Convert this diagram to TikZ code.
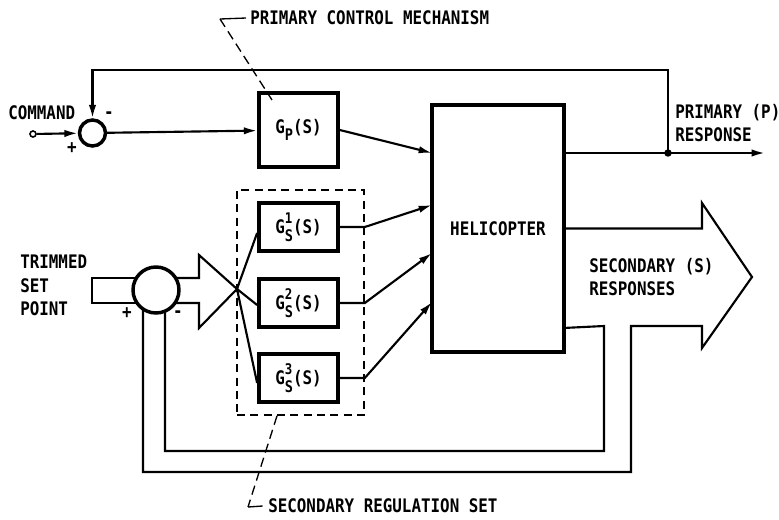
\documentclass[tikz,border=0pt]{standalone}
\usepackage{fontspec}
\newfontfamily\lettering[FakeStretch=0.85]{DejaVu Sans Mono}
\usetikzlibrary{arrows.meta,positioning,calc}
\tikzset
{
  lbl/.style     = {inner sep=0pt, align=left, font=\lettering\bfseries\fontsize{14}{17.5}\selectfont},
  block/.style   = {lbl, draw=black, line width=2.8pt, minimum width=59.25pt, align=center},
  sumnode/.style = {circle, draw=black, line width=2.6pt, fill=white, inner sep=0pt},
  dashbox/.style = {draw=black, line width=1.2pt, dash pattern=on 6pt off 4pt, inner sep=0pt},
  leader/.style  = {line width=1pt, dash pattern=on 7pt off 4pt},
  sig/.style     = {line width=1.6pt},
  arr/.style     = {sig, -{Latex[length=10pt,width=5.5pt]}}
}
\newcommand{\Gprim}{G\raisebox{-0.7ex}{\fontsize{12}{12}\selectfont P}(S)}
\newcommand{\Gsec}[1]{G\rlap{\raisebox{1.0ex}{\fontsize{11}{11}\selectfont #1}}\raisebox{-0.8ex}{\fontsize{12}{12}\selectfont S}(S)}

\begin{document}
\begin{tikzpicture}[x=0.75pt, y=-0.75pt]
  \useasboundingbox (0,0) rectangle (779,519);

  \node [block, minimum height=55.5pt] (gp) at (298.5,130) {\Gprim};
  \node [block, minimum height=36pt] (g1) at (298.5,227) {\Gsec{1}};
  \node [block, minimum height=36pt] (g2) at (298.5,303) {\Gsec{2}};
  \node [block, minimum height=36pt] (g3) at (298.5,378) {\Gsec{3}};
  \node [block, minimum width=99pt, minimum height=185.25pt] (heli) at (498,228.5) {HELICOPTER};
  \node [dashbox, minimum width=95.25pt, minimum height=168.75pt] (regset) at (300.5,302.5) {};

  \node [sumnode, minimum size=19.5pt] (sum1) at (92.5,133) {};
  \node [circle, draw=black, line width=1.2pt, inner sep=0pt, minimum size=4.5pt] (cmd) at (33,134) {};

  \coordinate (hin0) at (432,153);
  \coordinate (hin1) at (432,205);
  \coordinate (hin2) at (432,253);
  \coordinate (hin3) at (432,302);
  \coordinate (tap) at (668,153);
  \coordinate (pout) at (765,153);
  \coordinate (fbk) at (92.5,70);
  \coordinate (tip) at (237,289);

  % primary loop
  \draw [arr] (cmd) -- (sum1);
  \draw [arr] (sum1) -- (gp);
  \draw [arr] (gp.east) -- (hin0);
  \draw [arr] (heli.east |- hin0) -- (pout);
  \fill (tap) circle (2.8pt);
  \draw [arr] (tap) |- (fbk) -- (sum1.north);

  % secondary set
  \foreach \i in {1,2,3}
    \draw [arr] (g\i.east) -- (g\i.east -| regset.east) -- (hin\i);
  \draw [sig] (tip) -- ([yshift=-4.5pt]g1.west);
  \draw [sig] (tip) -- ([yshift=-1.5pt]g2.west);
  \draw [sig] (tip) -- ([yshift=-3.75pt]g3.west);

  % wide arrows
  \draw [sig] (156,278) -- (92,278) -- (92,303) -- (156,303);
  \draw [sig] (156,278) -- (199,278) -- (199,255) -- (tip) -- (199,328) -- (199,303) -- (156,303);
  \draw [sig] (heli.east) -- (702,228.5) -- (702,203) -- (752,277) -- (702,348) -- (702,326)
    -- (631,326) -- (631,472) -- (143,472) -- (143,290);
  \draw [sig] ([yshift=19.5pt]heli.south east) -- (604,326) -- (604,451) -- (165,451) -- (165,290);
  \node [sumnode, minimum size=34.5pt] (sum2) at (156,290) {};

  % labels
  \node [lbl, anchor=west] (cmdlbl) at (8,113) {COMMAND};
  \node [lbl] (p1) at (72,148) {+};
  \node [lbl] (m1) at (109,115) {-};
  \node [lbl] (p2) at (127,313) {+};
  \node [lbl] (m2) at (178,314) {-};
  \node [lbl, anchor=north west] (prim) at (675,104) {PRIMARY (P)\\RESPONSE};
  \node [lbl, anchor=north west] (trim) at (20,255) {TRIMMED\\SET\\POINT};
  \node [lbl, anchor=north west] (secr) at (589,258) {SECONDARY (S)\\RESPONSES};

  \node [lbl, anchor=west] (pcm) at (250,18) {PRIMARY CONTROL MECHANISM};
  \coordinate (pcmk) at (220,19);
  \draw [line width=1pt] ([xshift=-3pt]pcm.west) -- (pcmk);
  \draw [leader] (pcmk) -- (272,100);

  \node [lbl, anchor=west] (srs) at (268,506) {SECONDARY REGULATION SET};
  \coordinate (srsk) at (248,507);
  \draw [leader] ([xshift=-17.6pt]regset.south) -- (srsk);
  \draw [line width=1pt] (srsk) -- ([xshift=-4pt]srs.west);
\end{tikzpicture}
\end{document}
